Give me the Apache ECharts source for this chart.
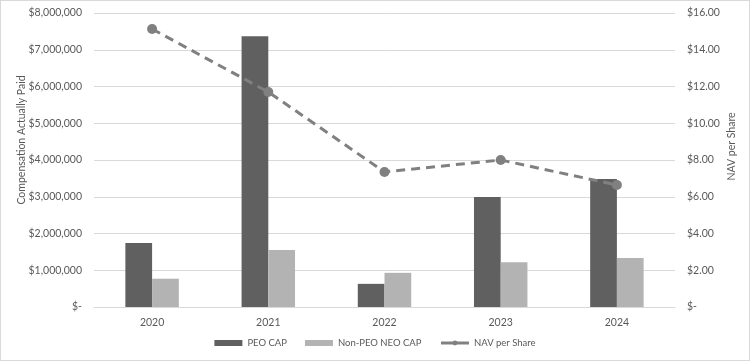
<!DOCTYPE html>
<html><head><meta charset="utf-8">
<script src="https://cdn.jsdelivr.net/npm/echarts@6/dist/echarts.min.js"></script>
<style>html,body{margin:0;padding:0;background:#fff}#c{width:748px;height:359px;border:1px solid #d9d9d9}</style>
</head><body><div id="c"></div>
<script>
const categories = ['2020','2021','2022','2023','2024'];
const peoCap = [1740000, 7370000, 630000, 2990000, 3480000];
const nonPeoCap = [770000, 1550000, 930000, 1220000, 1330000];
const navPerShare = [15.13, 11.70, 7.35, 8.00, 6.64];

const font = 'Lato';
const txt = '#595959';
const chart = echarts.init(document.getElementById('c'));
chart.setOption({
  animation: false,
  textStyle: {fontFamily: font},
  grid: {left: 93, right: 74, top: 12, bottom: 53, containLabel: false},
  legend: {
    bottom: 7, itemGap: 18, itemWidth: 28, itemHeight: 6,
    textStyle: {color: txt, fontSize: 9.5, fontFamily: font},
    data: [
      {name: 'PEO CAP', icon: 'rect'},
      {name: 'Non-PEO NEO CAP', icon: 'rect'},
      {name: 'NAV per Share', lineStyle: {type: 'solid', width: 3}}
    ]
  },
  xAxis: {
    type: 'category', data: categories,
    axisLine: {lineStyle: {color: '#d9d9d9'}}, axisTick: {show: false},
    axisLabel: {color: txt, fontSize: 10.5, margin: 10}
  },
  yAxis: [
    {type: 'value', min: 0, max: 8000000, interval: 1000000,
     name: 'Compensation Actually Paid', nameLocation: 'middle', nameGap: 67,
     nameMoveOverlap: false,
     nameTextStyle: {color: txt, fontSize: 10.5, padding: [0, 0, 0, 40]},
     axisLabel: {color: txt, fontSize: 10.5, margin: 12,
       formatter: v => v === 0 ? '$-' : '$' + v.toLocaleString('en-US')},
     splitLine: {lineStyle: {color: '#d9d9d9'}}},
    {type: 'value', min: 0, max: 16, interval: 2,
     name: 'NAV per Share', nameLocation: 'middle', nameGap: 51, nameRotate: 90,
     nameMoveOverlap: false,
     nameTextStyle: {color: txt, fontSize: 10.5, padding: [0, 0, 0, 27]},
     axisLabel: {color: txt, fontSize: 10.5, margin: 12,
       formatter: v => v === 0 ? '$-' : '$' + v.toFixed(2)},
     splitLine: {show: false}}
  ],
  series: [
    {name: 'PEO CAP', type: 'bar', data: peoCap, barWidth: '23%', barGap: '0%',
     itemStyle: {color: '#606060'}},
    {name: 'Non-PEO NEO CAP', type: 'bar', data: nonPeoCap, barWidth: '23%',
     itemStyle: {color: '#b3b3b3'}},
    {name: 'NAV per Share', type: 'line', yAxisIndex: 1, data: navPerShare,
     symbol: 'circle', symbolSize: 10,
     lineStyle: {color: '#808080', width: 3, type: [9, 6]},
     itemStyle: {color: '#808080'}}
  ]
});
</script></body></html>
